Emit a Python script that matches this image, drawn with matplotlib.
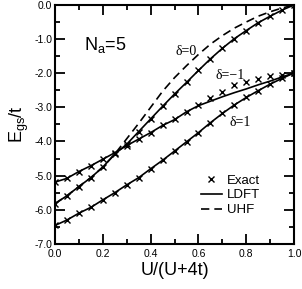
import numpy as np
import matplotlib
matplotlib.use('Agg')
import matplotlib.pyplot as plt
from matplotlib.lines import Line2D
from matplotlib.ticker import MultipleLocator

plt.rcParams['font.family'] = ['Liberation Sans', 'DejaVu Sans']

# U/(U+4t) grid
u = [0.0, 0.05, 0.1, 0.15, 0.2, 0.25, 0.3, 0.35, 0.4, 0.45, 0.5,
     0.55, 0.6, 0.65, 0.7, 0.75, 0.8, 0.85, 0.9, 0.95, 1.0]

# exact results (markers)
exact_d0 = [-5.82, -5.59, -5.32, -5.06, -4.75, -4.37, -4.08, -3.71, -3.34, -2.97, -2.61,
            -2.27, -1.92, -1.58, -1.27, -0.99, -0.75, -0.52, -0.33, -0.15, 0.0]
exact_dm1 = [-5.19, -5.08, -4.88, -4.71, -4.52, -4.33, -4.12, -3.93, -3.74, -3.52, -3.35,
             -3.15, -2.93, -2.72, -2.54, -2.36, -2.27, -2.18, -2.09, -2.05, -1.99]
exact_d1 = [-6.46, -6.30, -6.10, -5.93, -5.71, -5.50, -5.27, -5.06, -4.80, -4.55, -4.28,
            -4.01, -3.74, -3.45, -3.18, -2.93, -2.71, -2.51, -2.32, -2.15, -1.99]

# LDFT (solid)
ldft_d0 = exact_d0
ldft_dm1 = [-5.19, -5.08, -4.88, -4.71, -4.52, -4.33, -4.12, -3.93, -3.74, -3.53, -3.36,
            -3.13, -2.95, -2.82, -2.69, -2.57, -2.46, -2.34, -2.23, -2.11, -1.99]
ldft_d1 = exact_d1

# UHF (dashed), delta=0
uhf_d0 = [-5.82, -5.59, -5.32, -5.06, -4.75, -4.37, -3.92, -3.47, -3.00, -2.53, -2.13,
          -1.78, -1.45, -1.15, -0.90, -0.68, -0.50, -0.33, -0.20, -0.09, 0.0]

fig = plt.figure(figsize=(3.02, 2.89), dpi=100)
ax = fig.add_axes([0.182, 0.156, 0.792, 0.827])

lw = 1.2
ax.plot(u, ldft_d0, 'k-', lw=lw)
ax.plot(u, ldft_dm1, 'k-', lw=lw)
ax.plot(u, ldft_d1, 'k-', lw=lw)
ax.plot(u, uhf_d0, 'k', lw=lw, dashes=(5, 3))
for e in (exact_d0, exact_dm1, exact_d1):
    ax.plot(u, e, 'kx', ms=4.5, mew=1.0, ls='none')

ax.set_xlim(0, 1)
ax.set_ylim(-7, 0)
ax.xaxis.set_major_locator(MultipleLocator(0.2))
ax.xaxis.set_minor_locator(MultipleLocator(0.1))
ax.yaxis.set_major_locator(MultipleLocator(1.0))
ax.yaxis.set_minor_locator(MultipleLocator(0.5))
ax.xaxis.set_major_formatter(plt.FormatStrFormatter('%.1f'))
ax.yaxis.set_major_formatter(plt.FormatStrFormatter('%.1f'))
ax.tick_params(which='both', direction='in', top=True, right=True, width=1.3, labelsize=7.5)
ax.tick_params(axis='x', pad=4)
ax.tick_params(axis='y', pad=2)
ax.tick_params(which='major', length=7)
ax.tick_params(which='minor', length=3.5)
for s in ax.spines.values():
    s.set_linewidth(1.5)

ax.set_xlabel('U/(U+4t)', fontsize=13, labelpad=2)
ax.set_ylabel(r'E$_\mathregular{gs}$/t', fontsize=13, labelpad=2)

ax.text(0.12, 0.81, r'N$_\mathregular{a}$=5', transform=ax.transAxes, fontsize=13)
dfont = ['Liberation Serif', 'DejaVu Serif']
ax.text(0.505, 0.79, 'δ=0', transform=ax.transAxes, fontsize=10, family=dfont)
ax.text(0.67, 0.69, 'δ=−1', transform=ax.transAxes, fontsize=10, family=dfont)
ax.text(0.73, 0.495, 'δ=1', transform=ax.transAxes, fontsize=10, family=dfont)

handles = [Line2D([], [], color='k', marker='x', ls='none', ms=4, mew=1.0),
           Line2D([], [], color='k', lw=lw),
           Line2D([], [], color='k', lw=lw, dashes=(5, 3))]
ax.legend(handles, ['Exact', 'LDFT', 'UHF'], loc='upper left', bbox_to_anchor=(0.57, 0.33),
          frameon=False, fontsize=9.5, handlelength=1.6, handletextpad=0.4,
          labelspacing=0.2, borderpad=0.2)

fig.savefig('out.png', dpi=100)
